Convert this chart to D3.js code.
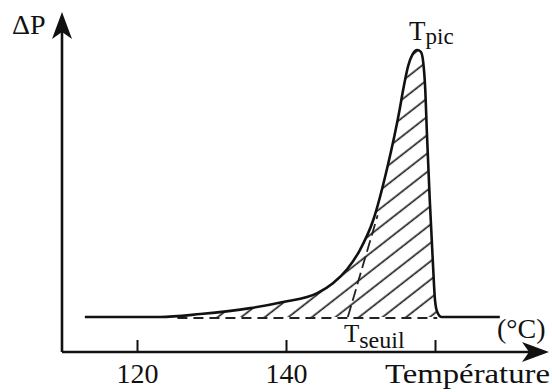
<!DOCTYPE html>
<html>
<head>
<meta charset="utf-8">
<script src="https://cdn.jsdelivr.net/npm/d3@7"></script>
<style>
  body { margin: 0; background: #fff; }
  svg { display: block; }
  text { font-family: "Liberation Serif", "DejaVu Serif", serif; fill: #111; }
</style>
</head>
<body>
<figure id="graph" style="margin:0"></figure>
<script>
// temperature (°C) and pressure difference (arbitrary units, peak = 100)
const temps = [113, 123.1, 128.5, 135.2, 139.6, 144.2, 146.3, 148.2, 149.9, 151.7, 153.6, 155.3, 155.7, 156.4, 157.0, 157.6, 158.1, 158.4, 158.7, 158.9, 159.3, 159.7, 160.0, 160.3, 160.9, 168.7];
const deltaP = [0, 0, 1.1, 3.3, 5.6, 8.9, 12.6, 17.8, 24.9, 36.1, 55.8, 78.1, 84.4, 93.7, 98.1, 99.6, 98.9, 95.5, 84.4, 69.5, 43.5, 21.2, 6.3, 1.9, 0, 0];
const tickVals = [120, 140, 160];
const tickLabels = ['120', '140', ''];
const hatchFrom = 126.5;   // start of hatched area
const hatchTo = 160.3;     // end of hatched area
const seuilT = 148.3;      // threshold temperature
const seuilTop = [152.3, 38];

const width = 552, height = 392;
const axisX = 62, axisY = 352;

const x = d3.scaleLinear().domain([120, 140]).range([137, 286]);
const y = d3.scaleLinear().domain([0, 100]).range([317, 49]);

const pts = temps.map((t, i) => [t, deltaP[i]]);
const curve = d3.curveMonotoneX;

const svg = d3.select('#graph').append('svg')
  .attr('width', width)
  .attr('height', height);

// hatch pattern
const defs = svg.append('defs');
defs.append('pattern')
  .attr('id', 'hatch')
  .attr('patternUnits', 'userSpaceOnUse')
  .attr('width', 14.5)
  .attr('height', 14.5)
  .attr('patternTransform', 'rotate(-38)')
  .append('line')
  .attr('x1', -2).attr('x2', 17)
  .attr('y1', 7).attr('y2', 7)
  .attr('stroke', '#222')
  .attr('stroke-width', 1.7);

const hatchPts = pts.filter(d => d[0] >= hatchFrom && d[0] <= hatchTo);
svg.append('path')
  .datum(hatchPts)
  .attr('fill', 'url(#hatch)')
  .attr('d', d3.area()
    .x(d => x(d[0]))
    .y0(y(0))
    .y1(d => y(d[1]))
    .curve(curve));

// dashed extrapolated baseline
svg.append('line')
  .attr('x1', x(hatchFrom) - 8).attr('x2', x(hatchTo))
  .attr('y1', y(0) + 1).attr('y2', y(0) + 1)
  .attr('stroke', '#222')
  .attr('stroke-width', 2)
  .attr('stroke-dasharray', '10,6');

// threshold marker
svg.append('line')
  .attr('x1', x(seuilT)).attr('y1', y(0))
  .attr('x2', x(seuilTop[0])).attr('y2', y(seuilTop[1]))
  .attr('stroke', '#222')
  .attr('stroke-width', 1.8)
  .attr('stroke-dasharray', '12,5');

// the curve
svg.append('path')
  .datum(pts)
  .attr('fill', 'none')
  .attr('stroke', '#111')
  .attr('stroke-width', 2.6)
  .attr('stroke-linejoin', 'round')
  .attr('d', d3.line()
    .x(d => x(d[0]))
    .y(d => y(d[1]))
    .curve(curve));

// axes lines
svg.append('path')
  .attr('d', `M${axisX},${axisY}H${width - 8}M${axisX},${axisY}V20`)
  .attr('fill', 'none')
  .attr('stroke', '#111')
  .attr('stroke-width', 2.6);

const arrow = 'M0,0L-27,-10L-20,0L-27,10Z';
svg.append('path')
  .attr('d', arrow)
  .attr('transform', `translate(${width - 3},${axisY})`)
  .attr('fill', '#111');
svg.append('path')
  .attr('d', arrow)
  .attr('transform', `translate(${axisX},12) rotate(-90)`)
  .attr('fill', '#111');

// ticks
const xAxis = svg.append('g')
  .attr('transform', `translate(0,${axisY})`)
  .call(d3.axisBottom(x)
    .tickValues(tickVals)
    .tickSizeInner(-12)
    .tickSizeOuter(0)
    .tickPadding(11)
    .tickFormat((d, i) => tickLabels[i]));
xAxis.select('.domain').remove();
xAxis.selectAll('.tick line').attr('stroke', '#111').attr('stroke-width', 2);
xAxis.selectAll('.tick text')
  .attr('fill', '#111')
  .style('font-family', '"Liberation Serif", serif')
  .style('font-size', '28px');

// labels
svg.append('text')
  .attr('x', 12).attr('y', 34)
  .style('font-size', '28px')
  .text('ΔP');

const pic = svg.append('text')
  .attr('x', 409).attr('y', 40)
  .style('font-size', '27px');
pic.append('tspan').text('T');
pic.append('tspan').attr('dy', 4).style('font-size', '23px').text('pic');

const seuil = svg.append('text')
  .attr('x', 344).attr('y', 342)
  .style('font-size', '25px');
seuil.append('tspan').text('T');
seuil.append('tspan').attr('dy', 6).style('font-size', '24px').text('seuil');

svg.append('text')
  .attr('x', 497).attr('y', 338)
  .style('font-size', '28px')
  .text('(°C)');

svg.append('text')
  .attr('x', 385).attr('y', 383)
  .attr('textLength', 165)
  .attr('lengthAdjust', 'spacingAndGlyphs')
  .style('font-size', '28px')
  .text('Température');
</script>
</body>
</html>
